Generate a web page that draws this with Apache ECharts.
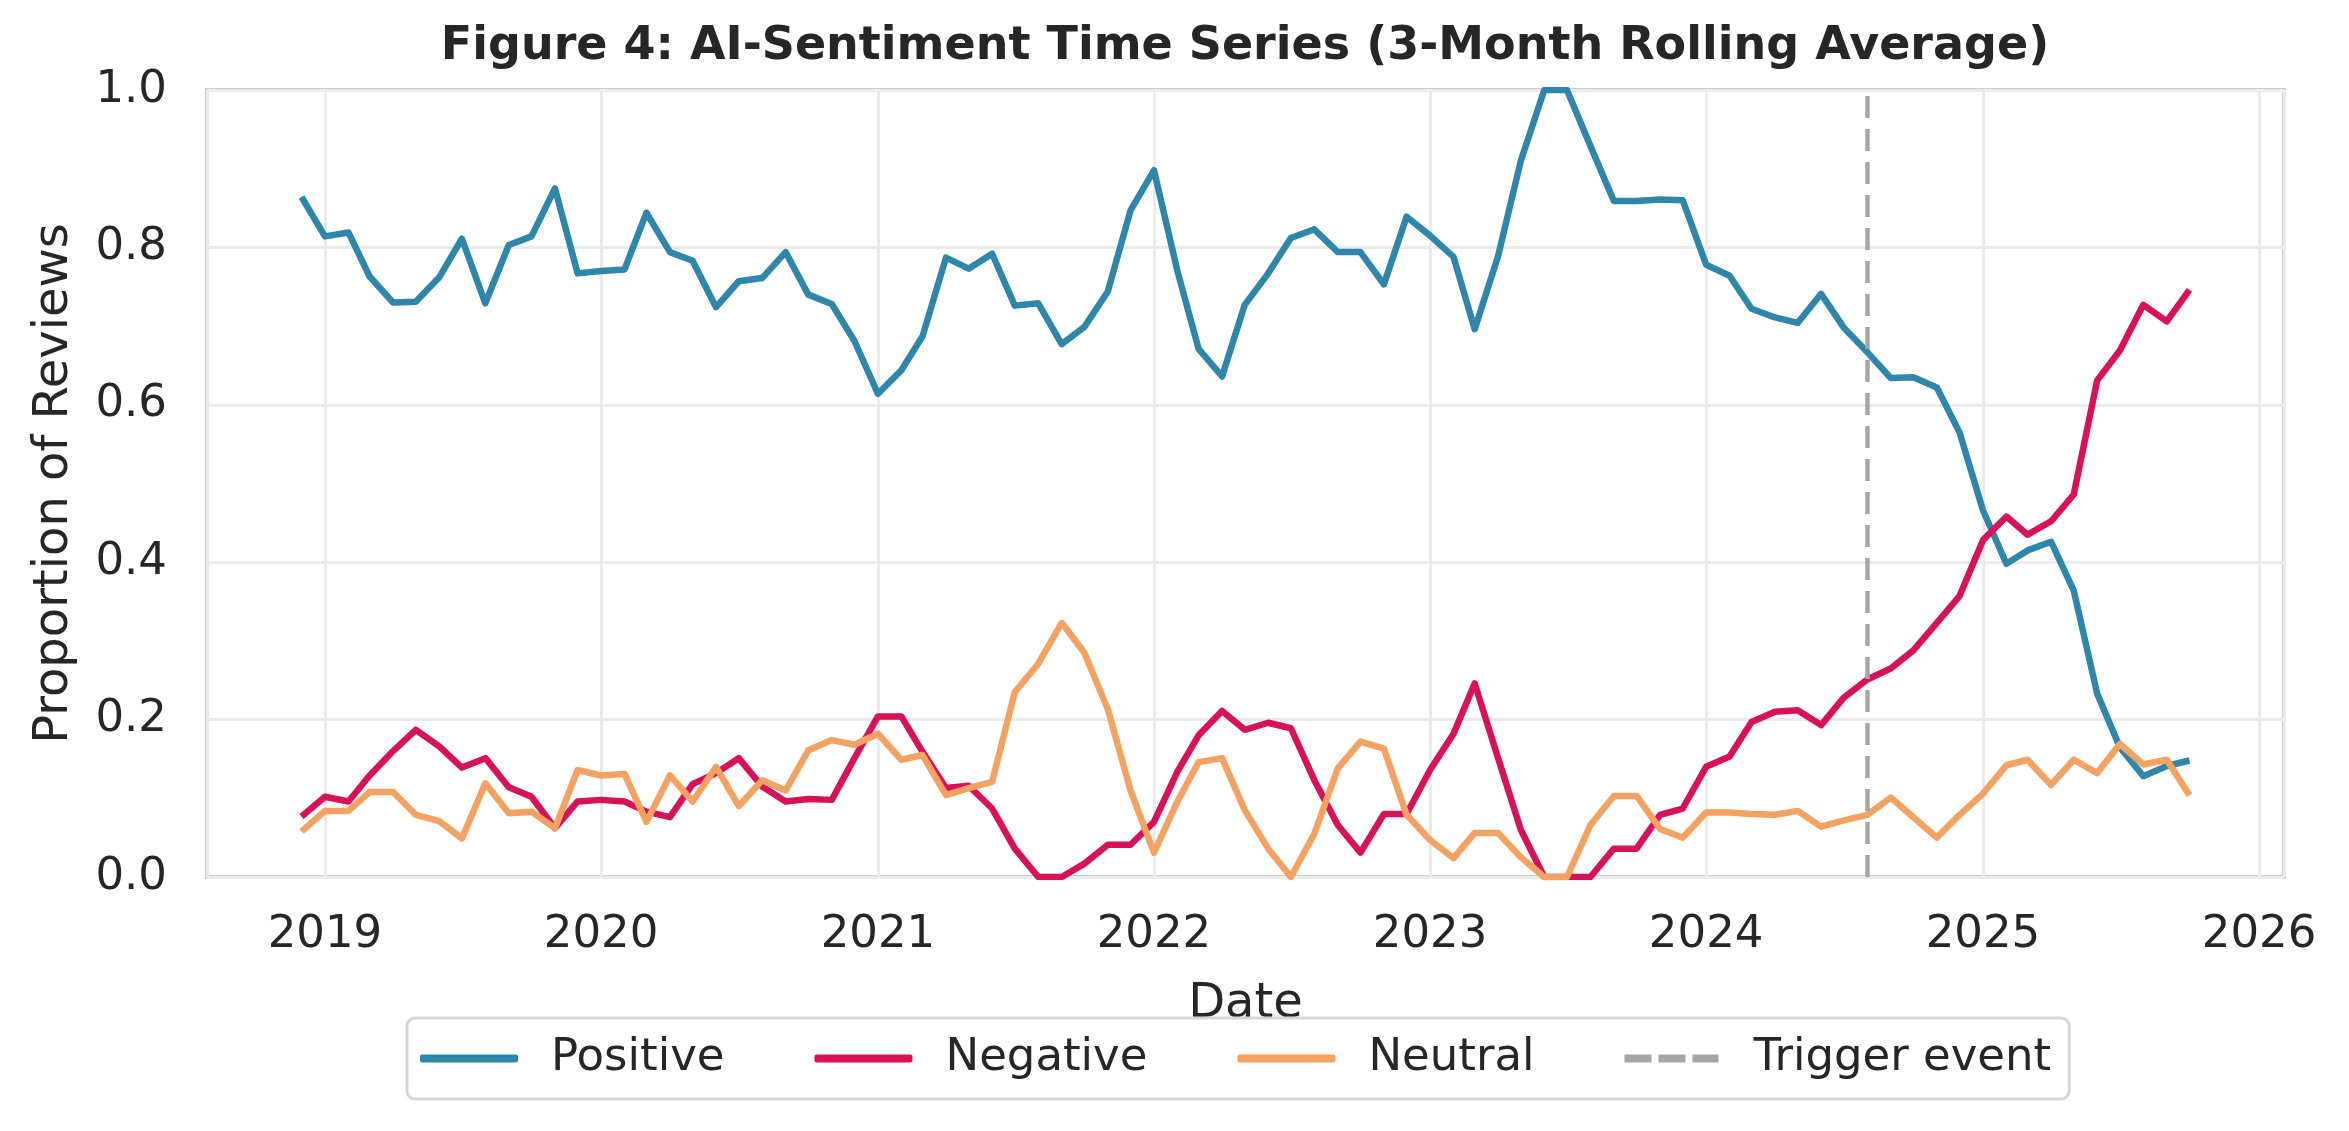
<!DOCTYPE html>
<html>
<head>
<meta charset="utf-8">
<title>AI-Sentiment Time Series</title>
<script src="https://cdn.jsdelivr.net/npm/echarts@6/dist/echarts.min.js"></script>
<style>
  html, body { margin: 0; padding: 0; background: #fff; }
  #chart { width: 2349px; height: 1131px; }
</style>
</head>
<body>
<div id="chart"></div>
<script>
// monthly points, 3-month rolling average
const months = [
  '2018-12',
  '2019-01', '2019-02', '2019-03', '2019-04', '2019-05', '2019-06', '2019-07', '2019-08', '2019-09', '2019-10', '2019-11', '2019-12',
  '2020-01', '2020-02', '2020-03', '2020-04', '2020-05', '2020-06', '2020-07', '2020-08', '2020-09', '2020-10', '2020-11', '2020-12',
  '2021-01', '2021-02', '2021-03', '2021-04', '2021-05', '2021-06', '2021-07', '2021-08', '2021-09', '2021-10', '2021-11', '2021-12',
  '2022-01', '2022-02', '2022-03', '2022-04', '2022-05', '2022-06', '2022-07', '2022-08', '2022-09', '2022-10', '2022-11', '2022-12',
  '2023-01', '2023-02', '2023-03', '2023-04', '2023-05', '2023-06', '2023-07', '2023-08', '2023-09', '2023-10', '2023-11', '2023-12',
  '2024-01', '2024-02', '2024-03', '2024-04', '2024-05', '2024-06', '2024-07', '2024-08', '2024-09', '2024-10', '2024-11', '2024-12',
  '2025-01', '2025-02', '2025-03', '2025-04', '2025-05', '2025-06', '2025-07', '2025-08', '2025-09', '2025-10'
];
const positive = [
  0.864,
  0.814, 0.819, 0.763, 0.730, 0.731, 0.762, 0.811, 0.729, 0.803, 0.814, 0.875, 0.767,
  0.770, 0.772, 0.844, 0.794, 0.783, 0.724, 0.757, 0.761, 0.794, 0.740, 0.728, 0.681,
  0.614, 0.644, 0.687, 0.787, 0.773, 0.792, 0.726, 0.729, 0.677, 0.699, 0.744, 0.847,
  0.898, 0.770, 0.671, 0.636, 0.727, 0.767, 0.812, 0.823, 0.794, 0.794, 0.753, 0.839,
  0.815, 0.788, 0.696, 0.789, 0.910, 1.000, 1.000, 0.929, 0.859, 0.859, 0.861, 0.860,
  0.778, 0.764, 0.722, 0.711, 0.704, 0.741, 0.698, 0.667, 0.634, 0.635, 0.622, 0.565,
  0.466, 0.398, 0.415, 0.426, 0.364, 0.233, 0.165, 0.128, 0.141, 0.148
];
const negative = [
  0.077,
  0.102, 0.096, 0.129, 0.160, 0.187, 0.166, 0.139, 0.151, 0.114, 0.102, 0.062, 0.096,
  0.098, 0.096, 0.083, 0.076, 0.118, 0.132, 0.151, 0.115, 0.096, 0.099, 0.098, 0.151,
  0.204, 0.204, 0.159, 0.113, 0.116, 0.087, 0.036, 0.000, 0.000, 0.017, 0.041, 0.041,
  0.070, 0.134, 0.180, 0.211, 0.187, 0.196, 0.189, 0.123, 0.066, 0.031, 0.080, 0.080,
  0.136, 0.182, 0.246, 0.151, 0.060, 0.000, 0.000, 0.000, 0.036, 0.036, 0.079, 0.087,
  0.140, 0.153, 0.197, 0.210, 0.212, 0.193, 0.228, 0.251, 0.265, 0.288, 0.323, 0.357,
  0.428, 0.458, 0.435, 0.452, 0.486, 0.631, 0.669, 0.727, 0.706, 0.746
];
const neutral = [
  0.058,
  0.084, 0.084, 0.108, 0.108, 0.079, 0.071, 0.049, 0.119, 0.081, 0.083, 0.062, 0.136,
  0.129, 0.131, 0.070, 0.129, 0.096, 0.140, 0.090, 0.123, 0.110, 0.161, 0.174, 0.168,
  0.182, 0.149, 0.155, 0.104, 0.113, 0.121, 0.235, 0.271, 0.323, 0.285, 0.213, 0.110,
  0.031, 0.096, 0.146, 0.151, 0.085, 0.036, 0.000, 0.055, 0.138, 0.172, 0.163, 0.079,
  0.047, 0.024, 0.056, 0.056, 0.025, 0.000, 0.000, 0.066, 0.103, 0.103, 0.061, 0.050,
  0.082, 0.082, 0.080, 0.079, 0.084, 0.064, 0.072, 0.079, 0.101, 0.076, 0.050, 0.079,
  0.106, 0.142, 0.149, 0.117, 0.149, 0.132, 0.169, 0.143, 0.149, 0.104
];
const triggerDate = '2024-08-01';
const xMin = '2018-07-29';
const xMax = '2026-02-03';

const DAY = 24 * 3600 * 1000;
const ts = s => echarts.time.parse(s).getTime();
const pairs = vals => months.map((m, i) => [ts(m + '-01'), vals[i]]);

const FONT = 'DejaVu Sans';
const TEXT = '#262626';
const BLUE = '#2E86AB', RED = '#D81159', ORANGE = '#F4A261', GREY = '#A6A6A6';
const DASH = [22, 11];

// legend keys: solid bar for lines, three short bars for the dashed marker
const SOLID_ICON = 'roundRect';
const DASHED_ICON = 'path://M0,0h27v8h-27z M34,0h27v8h-27z M68,0h26v8h-26z';

const chart = echarts.init(document.getElementById('chart'));

function lineSeries(name, vals, color) {
  return {
    name: name,
    type: 'line',
    data: pairs(vals),
    symbol: 'none',
    showSymbol: false,
    lineStyle: { width: 6.5, color: color, join: 'round' },
    itemStyle: { color: color },
    animation: false
  };
}

const option = {
  backgroundColor: '#fff',
  textStyle: { fontFamily: FONT, color: TEXT },
  title: {
    text: 'Figure 4: AI-Sentiment Time Series (3-Month Rolling Average)',
    left: 1245,
    top: 24,
    textAlign: 'center',
    padding: 0,
    textStyle: { fontFamily: FONT, fontSize: 46, fontWeight: 'bold', color: TEXT }
  },
  grid: {
    left: 207, right: 65, top: 90, bottom: 254,
    show: true, borderColor: '#cccccc', borderWidth: 4, backgroundColor: 'transparent'
  },
  legend: {
    data: [
      { name: 'Positive', icon: SOLID_ICON },
      { name: 'Negative', icon: SOLID_ICON },
      { name: 'Neutral', icon: SOLID_ICON },
      { name: 'Trigger event', icon: DASHED_ICON }
    ],
    left: 407,
    top: 1018,
    padding: [18, 18, 18, 13],
    itemWidth: 98,
    itemHeight: 8,
    itemGap: 90,
    borderColor: '#d6d6d6',
    borderWidth: 3,
    borderRadius: 8,
    textStyle: { fontFamily: FONT, fontSize: 45, color: TEXT, padding: [0, 0, 0, 28] }
  },
  xAxis: {
    type: 'time',
    min: ts(xMin),
    max: ts(xMax),
    minInterval: 365 * DAY,
    maxInterval: 366 * DAY,
    name: 'Date',
    nameLocation: 'middle',
    nameGap: 104,
    nameTextStyle: { fontFamily: FONT, fontSize: 48, color: TEXT },
    axisLine: { show: false },
    axisTick: { show: false },
    axisLabel: {
      formatter: '{yyyy}',
      showMinLabel: false,
      showMaxLabel: false,
      fontFamily: FONT, fontSize: 45, color: TEXT, margin: 36
    },
    splitLine: { show: true, lineStyle: { color: '#ebebeb', width: 3 } }
  },
  yAxis: {
    type: 'value',
    min: 0,
    max: 1,
    interval: 0.2,
    name: 'Proportion of Reviews',
    nameLocation: 'middle',
    nameRotate: 90,
    nameGap: 128,
    nameTextStyle: { fontFamily: FONT, fontSize: 48, color: TEXT },
    axisLine: { show: false },
    axisTick: { show: false },
    axisLabel: {
      formatter: v => v.toFixed(1),
      fontFamily: FONT, fontSize: 45, color: TEXT, margin: 40
    },
    splitLine: { show: true, lineStyle: { color: '#ebebeb', width: 3 } }
  },
  series: [
    lineSeries('Positive', positive, BLUE),
    lineSeries('Negative', negative, RED),
    lineSeries('Neutral', neutral, ORANGE),
    {
      name: 'Trigger event',
      type: 'line',
      data: [],
      symbol: 'none',
      lineStyle: { width: 4.5, color: GREY, type: DASH },
      itemStyle: { color: GREY },
      animation: false,
      markLine: {
        silent: true,
        symbol: ['none', 'none'],
        label: { show: false },
        animation: false,
        lineStyle: { width: 4.5, color: GREY, type: DASH },
        data: [{ xAxis: ts(triggerDate) }]
      }
    }
  ]
};

chart.setOption(option);
</script>
</body>
</html>
